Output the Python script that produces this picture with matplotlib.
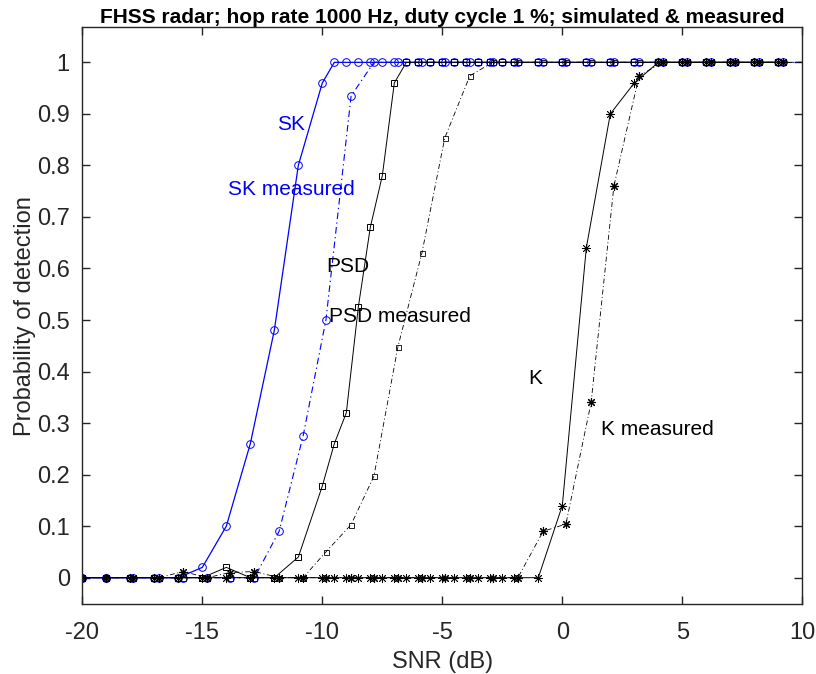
import matplotlib
matplotlib.use('Agg')
import matplotlib.pyplot as plt

plt.rcParams['font.family'] = ['Liberation Sans', 'DejaVu Sans']
plt.rcParams['axes.unicode_minus'] = False  # plain hyphen for negative ticks

# SNR grid of the simulations (dB)
sim_snr = [-20, -19, -18, -17, -16, -15, -14, -13, -12, -11, -10,
           -9.5, -9, -8.5, -8, -7.5, -7, -6.5, -6, -5.5, -5, -4.5, -4, -3.5, -3, -2.5,
           -2, -1, 0, 1, 2, 3, 4, 5, 6, 7, 8, 9]

# simulated probability of detection
sk_sim = [0, 0, 0, 0, 0, 0.02, 0.10, 0.26, 0.48, 0.80, 0.96,
          1, 1, 1, 1, 1, 1, 1, 1, 1, 1, 1, 1, 1, 1, 1,
          1, 1, 1, 1, 1, 1, 1, 1, 1, 1, 1, 1]
psd_sim = [0, 0, 0, 0, 0, 0, 0.02, 0, 0, 0.04, 0.178,
           0.26, 0.32, 0.525, 0.68, 0.78, 0.96, 1, 1, 1, 1, 1, 1, 1, 1, 1,
           1, 1, 1, 1, 1, 1, 1, 1, 1, 1, 1, 1]
k_sim = [0, 0, 0, 0, 0, 0, 0, 0, 0, 0, 0,
         0, 0, 0, 0, 0, 0, 0, 0, 0, 0, 0, 0, 0, 0, 0,
         0, 0, 0.14, 0.64, 0.90, 0.96, 1, 1, 1, 1, 1, 1]

# SNR of the measured signals (dB)
meas_snr = [-20, -19, -17.9, -16.8, -15.8, -14.8, -13.85, -12.83, -11.8, -10.8,
            -9.85, -8.8, -7.85, -6.85, -5.85, -4.9, -3.85, -2.9, -1.85, -0.8,
            0.15, 1.2, 2.15, 3.2, 4.2, 5.2, 6.2, 7.2, 8.2, 9.2, 10.2]

# measured probability of detection
sk_meas = [0, 0, 0, 0, 0, 0, 0, 0, 0.09, 0.275,
           0.50, 0.935, 1, 1, 1, 1, 1, 1, 1, 1,
           1, 1, 1, 1, 1, 1, 1, 1, 1, 1, 1]
psd_meas = [0, 0, 0, 0, 0, 0, 0, 0, 0, 0,
            0.05, 0.103, 0.197, 0.448, 0.63, 0.853, 0.974, 1, 1, 1,
            1, 1, 1, 1, 1, 1, 1, 1, 1, 1, 1]
k_meas = [0, 0, 0, 0, 0.012, 0, 0.01, 0.012, 0, 0,
          0, 0, 0, 0, 0, 0, 0, 0, 0, 0.09,
          0.104, 0.34, 0.76, 0.974, 1, 1, 1, 1, 1, 1, 1]

blue = (0, 0, 1)
dashdot = (0, (6, 3, 1.2, 3))
axcol = (0.15, 0.15, 0.15)

fig = plt.figure(figsize=(8.16, 6.74), dpi=100)
ax = fig.add_axes([0.1009, 0.1039, 0.8823, 0.8556])

# SK curves
ax.plot(sim_snr, sk_sim, color=blue, lw=0.9, marker='o', ms=5.5, mfc='none', mew=0.7)
ax.plot(meas_snr, sk_meas, color=blue, lw=0.8, ls=dashdot, marker='o', ms=5.5, mfc='none', mew=0.7)

# PSD curves
ax.plot(sim_snr, psd_sim, color='k', lw=0.7, marker='s', ms=4.3, mfc='none', mew=0.7)
ax.plot(meas_snr, psd_meas, color='k', lw=0.6, ls=dashdot, marker='s', ms=3.6, mfc='none', mew=0.6)

# K curves
ax.plot(sim_snr, k_sim, color='k', lw=0.7, marker=(8, 2, 0), ms=6.5, mew=0.6)
ax.plot(meas_snr, k_meas, color='k', lw=0.6, ls=dashdot, marker=(8, 2, 0), ms=6.5, mew=0.8)

# curve labels
ax.text(-11.9, 0.879, 'SK', color=blue, fontsize=15, va='center')
ax.text(-13.95, 0.754, 'SK measured', color=blue, fontsize=15, va='center')
ax.text(-9.85, 0.603, 'PSD', color='k', fontsize=15, va='center')
ax.text(-9.72, 0.506, 'PSD measured', color='k', fontsize=15, va='center')
ax.text(-1.4, 0.387, 'K', color='k', fontsize=15, va='center')
ax.text(1.6, 0.288, 'K measured', color='k', fontsize=15, va='center')

ax.set_xlim(-20, 10)
ax.set_ylim(-0.051, 1.068)
ax.set_xticks([-20, -15, -10, -5, 0, 5, 10])
ax.set_yticks([0, 0.1, 0.2, 0.3, 0.4, 0.5, 0.6, 0.7, 0.8, 0.9, 1])
ax.set_yticklabels(['0', '0.1', '0.2', '0.3', '0.4', '0.5', '0.6', '0.7', '0.8', '0.9', '1'])
ax.tick_params(direction='in', length=6, width=1, top=True, right=True,
               labelsize=17, colors=axcol)
ax.tick_params(axis='x', pad=13)
ax.tick_params(axis='y', pad=9)
for s in ax.spines.values():
    s.set_color(axcol)
    s.set_linewidth(1)

ax.set_xlabel('SNR (dB)', fontsize=17, color=axcol, labelpad=5)
ax.set_ylabel('Probability of detection', fontsize=17, color=axcol, labelpad=1)
ax.set_title('FHSS radar; hop rate 1000 Hz, duty cycle 1 %; simulated & measured',
             fontsize=15, fontweight='bold', pad=3)

fig.savefig('out.png', dpi=100)
